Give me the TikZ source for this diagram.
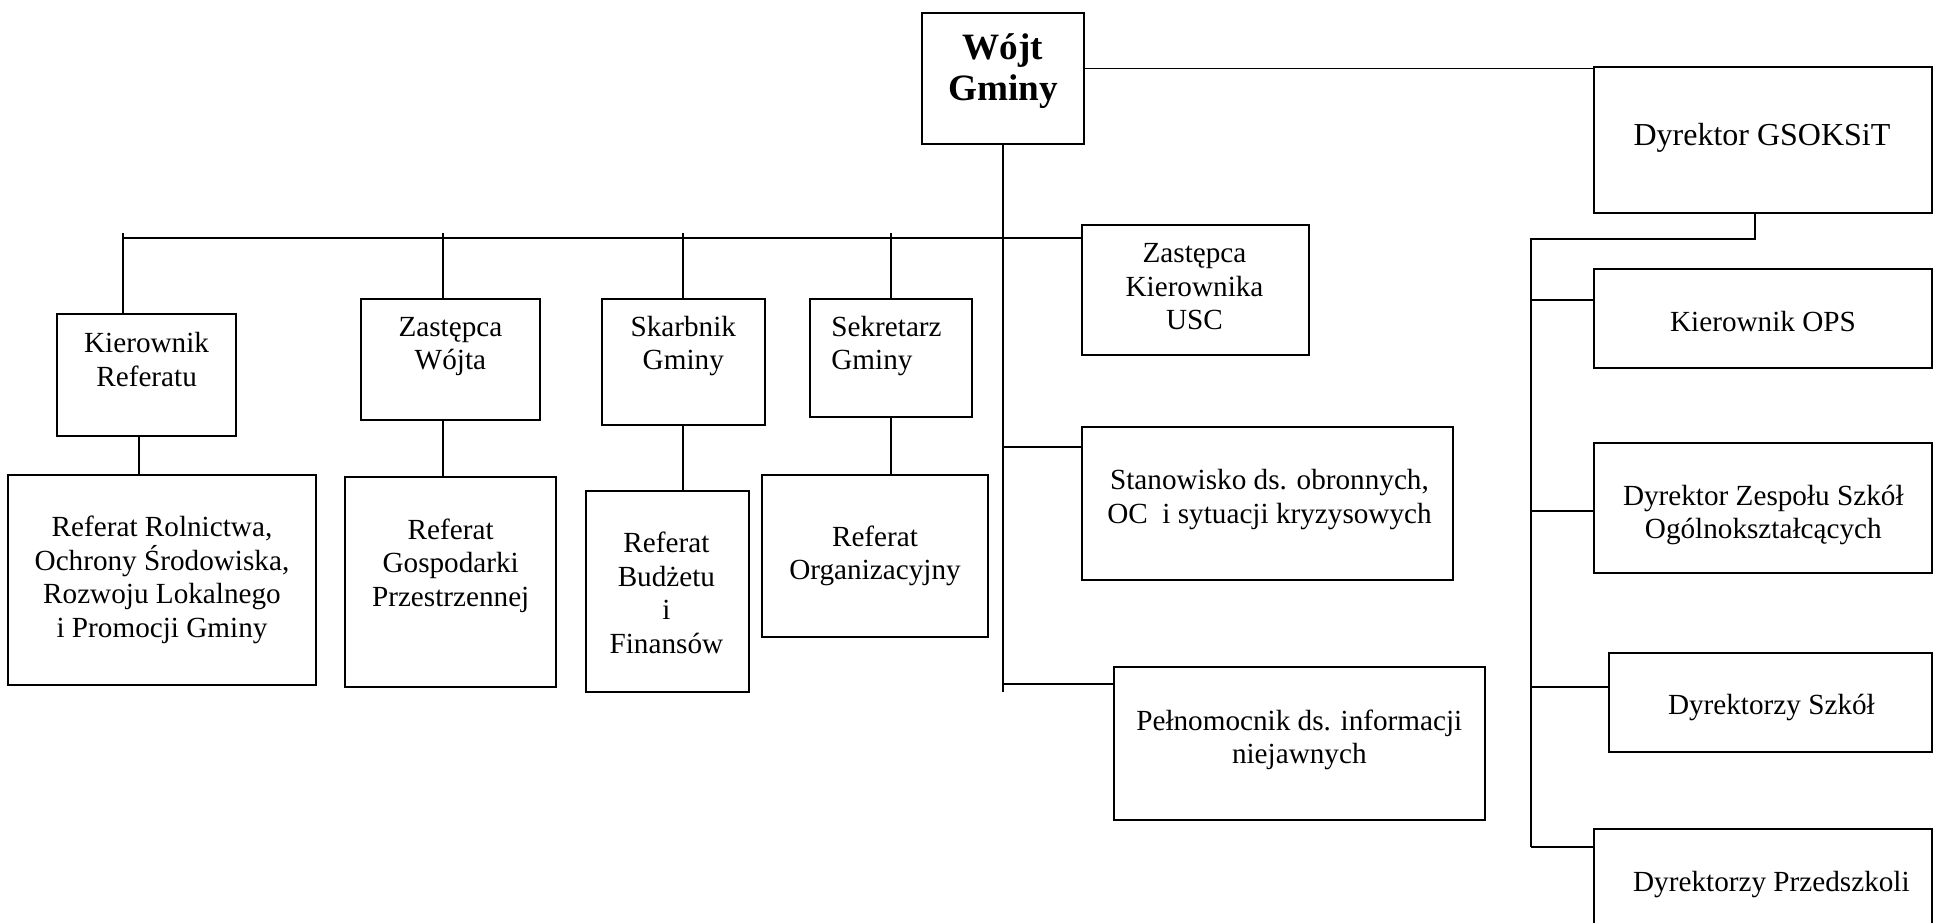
\documentclass[tikz,border=0pt]{standalone}
\usepackage{fontspec}
\setmainfont{Liberation Serif}
\usetikzlibrary{fit}

\tikzset{
  box/.style={draw, line width=1pt, inner sep=0pt},
  link/.style={line width=0.6pt},
  txt/.style={align=center, inner sep=0pt, font=\fontsize{14.6}{16.75}\selectfont},
  head/.style={align=center, inner sep=0pt, font=\fontsize{18.6}{20.85}\selectfont\bfseries}
}

\begin{document}
\begin{tikzpicture}[x=0.5pt, y=-0.5pt]
    \useasboundingbox (0,0) rectangle (1934,922);
    \clip (0,0) rectangle (1934,922);

    % Wójt
    \node[box, fit={(922,13) (1084,144)}] (wojt) {};
    \node[head] (wojt-t) at (1003,71) {Wójt\\Gminy};

    % Rząd pod szyną
    \node[box, fit={(57,314) (236,436)}] (kier) {};
    \node[txt] (kier-t) at (146.6,359.4) {Kierownik\\Referatu};
    \node[box, fit={(361,299) (540,420)}] (zw) {};
    \node[txt] (zw-t) at (450.4,346.7) {Zastępca\\Wójta};
    \node[box, fit={(602,299) (765,425)}] (skarb) {};
    \node[txt] (skarb-t) at (683.3,346) {Skarbnik\\Gminy};
    \node[box, fit={(810,299) (972,417)}] (sekr) {};
    \node[txt, align=left, anchor=west] (sekr-t) at (831,346) {Sekretarz\\Gminy};
    \node[box, fit={(1082,225) (1309,355)}] (usc) {};
    \node[txt] (usc-t) at (1194.5,286.7) {Zastępca\\Kierownika\\USC};

    % Referaty
    \node[box, fit={(8,475) (316,685)}] (rol) {};
    \node[txt] (rol-t) at (162,580) {Referat Rolnictwa,\\Ochrony Środowiska,\\Rozwoju Lokalnego\\i Promocji Gminy};
    \node[box, fit={(345,477) (556,687)}] (gosp) {};
    \node[txt] (gosp-t) at (450.7,565.5) {Referat\\Gospodarki\\Przestrzennej};
    \node[box, fit={(586,491) (749,692)}] (budz) {};
    \node[txt] (budz-t) at (666.4,593) {Referat\\Budżetu\\i\\Finansów};
    \node[box, fit={(762,475) (988,637)}] (org) {};
    \node[txt] (org-t) at (875,556) {Referat\\Organizacyjny};

    % Stanowiska przy pniu
    \node[box, fit={(1082,427) (1453,580)}] (stan) {};
    \node[txt] (stan-t) at (1269.5,499.7) {Stanowisko ds. obronnych,\\OC\ \ i sytuacji kryzysowych};
    \node[box, fit={(1114,667) (1485,820)}] (peln) {};
    \node[txt] (peln-t) at (1299.3,739.7) {Pełnomocnik ds. informacji\\niejawnych};

    % Jednostki po prawej
    \node[box, fit={(1594,67) (1932,213)}] (gsok) {};
    \node[txt, font=\fontsize{16}{18}\selectfont] (gsok-t) at (1762,137.5) {Dyrektor GSOKSiT};
    \node[box, fit={(1594,269) (1932,368)}] (ops) {};
    \node[txt] (ops-t) at (1763,321.4) {Kierownik OPS};
    \node[box, fit={(1594,443) (1932,573)}] (zesp) {};
    \node[txt] (zesp-t) at (1763.3,515) {Dyrektor Zespołu Szkół\\Ogólnokształcących};
    \node[box, fit={(1609,653) (1932,752)}] (szk) {};
    \node[txt] (szk-t) at (1771.4,707.7) {Dyrektorzy Szkół};
    \node[box, fit={(1594,829) (1932,960)}] (przed) {};
    \node[txt] (przed-t) at (1771.4,884.6) {Dyrektorzy Przedszkoli};

    % Pień i szyna
    \coordinate (trunk-end) at (1003,692);
    \draw[link] (wojt.south) -- (trunk-end);
    \draw[link] ([yshift=5pt]wojt.east) -- ([yshift=5pt]wojt.east -| gsok.west);
    \coordinate (bus) at (123,238);
    \draw[link] (bus) -- (bus -| usc.west);

    % Odgałęzienia od szyny
    \draw[link] (123,233) -- (123,233 |- kier.north);
    \draw[link] (443,233) -- (443,233 |- zw.north);
    \draw[link] (683,233) -- (683,233 |- skarb.north);
    \draw[link] (891,233) -- (891,233 |- sekr.north);

    % Do referatów
    \draw[link] (139,0 |- kier.south) -- (139,0 |- rol.north);
    \draw[link] (443,0 |- zw.south) -- (443,0 |- gosp.north);
    \draw[link] (683,0 |- skarb.south) -- (683,0 |- budz.north);
    \draw[link] (891,0 |- sekr.south) -- (891,0 |- org.north);

    % Od pnia
    \draw[link] (1003,447) -- (stan.west |- 1003,447);
    \draw[link] (1003,684) -- (peln.west |- 1003,684);

    % Szyna GSOKSiT
    \coordinate (rail-top) at (1531,239);
    \coordinate (rail-end) at (1531,847);
    \draw[link] (1755,0 |- gsok.south) -- (1755,239) -- (rail-top) -- (rail-end);
    \draw[link] (1531,300) -- (ops.west |- 1531,300);
    \draw[link] (1531,511) -- (zesp.west |- 1531,511);
    \draw[link] (1531,687) -- (szk.west |- 1531,687);
    \draw[link] (rail-end) -- (przed.west |- rail-end);
\end{tikzpicture}
\end{document}
